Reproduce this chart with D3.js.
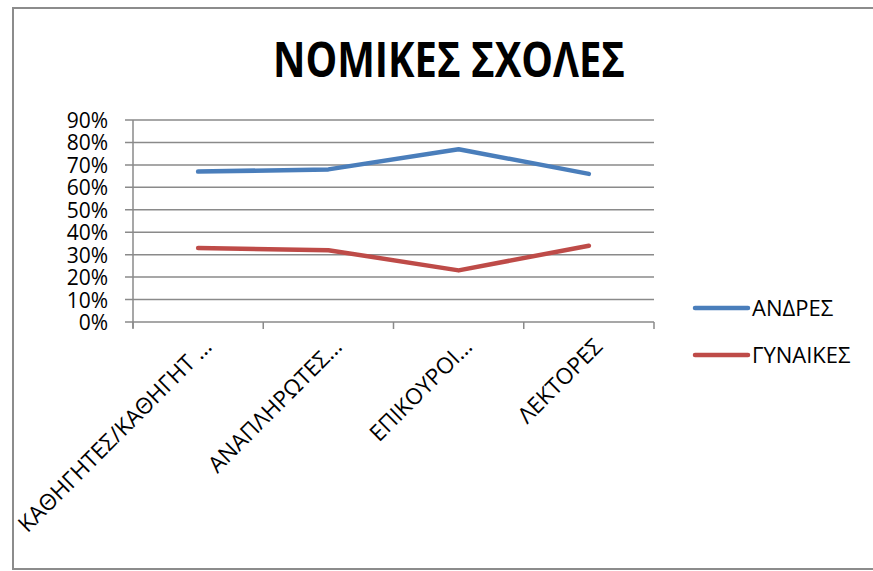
<!DOCTYPE html>
<html>
<head>
<meta charset="utf-8">
<script src="https://cdn.jsdelivr.net/npm/d3@7"></script>
<style>
  body { margin: 0; background: #fff; }
  text { font-family: "Open Sans", sans-serif; fill: #000; }
</style>
</head>
<body>
<div id="chart"></div>
<script>
// chart data
var categories = ['ΚΑΘΗΓΗΤΕΣ/ΚΑΘΗΓΗΤ …', 'ΑΝΑΠΛΗΡΩΤΕΣ…', 'ΕΠΙΚΟΥΡΟΙ…', 'ΛΕΚΤΟΡΕΣ'];
var andres = [0.67, 0.68, 0.77, 0.66];
var gynaikes = [0.33, 0.32, 0.23, 0.34];
var seriesNames = ['ΑΝΔΡΕΣ', 'ΓΥΝΑΙΚΕΣ'];
var seriesColors = ['#4a7ebb', '#be4b48'];
var yTicks = [0, 0.1, 0.2, 0.3, 0.4, 0.5, 0.6, 0.7, 0.8, 0.9];

var width = 873, height = 571;
var svg = d3.select('#chart').append('svg')
  .attr('width', width)
  .attr('height', height);

// outer frame
svg.append('rect')
  .attr('x', 13).attr('y', 8)
  .attr('width', 875).attr('height', 561)
  .attr('fill', 'none')
  .attr('stroke', '#8c8c8c')
  .attr('stroke-width', 2);

svg.append('text')
  .attr('x', 449).attr('y', 77)
  .attr('text-anchor', 'middle')
  .attr('font-size', 48)
  .attr('font-weight', 'bold')
  .attr('textLength', 352)
  .attr('lengthAdjust', 'spacingAndGlyphs')
  .text('ΝΟΜΙΚΕΣ ΣΧΟΛΕΣ');

var plotLeft = 133, plotRight = 654, plotTop = 120, plotBottom = 322;

var x = d3.scaleBand().domain(categories).range([plotLeft, plotRight]);
var y = d3.scaleLinear().domain([0, 0.9]).range([plotBottom, plotTop]);

// gridlines
svg.append('g')
  .selectAll('line')
  .data(yTicks)
  .join('line')
  .attr('x1', plotLeft - 8).attr('x2', plotRight)
  .attr('y1', d => y(d)).attr('y2', d => y(d))
  .attr('stroke', '#8a8a8a')
  .attr('stroke-width', 1.5);

// y axis line
svg.append('line')
  .attr('x1', plotLeft).attr('x2', plotLeft)
  .attr('y1', plotTop).attr('y2', plotBottom + 6)
  .attr('stroke', '#8a8a8a').attr('stroke-width', 1.5);

// x axis ticks
var xTickPos = categories.map(c => x(c)).concat([plotRight]);
svg.append('g')
  .selectAll('line')
  .data(xTickPos)
  .join('line')
  .attr('x1', d => d).attr('x2', d => d)
  .attr('y1', plotBottom).attr('y2', plotBottom + 7)
  .attr('stroke', '#8a8a8a').attr('stroke-width', 1.5);

// y labels
svg.append('g')
  .selectAll('text')
  .data(yTicks)
  .join('text')
  .attr('x', 108)
  .attr('y', d => y(d) + 8)
  .attr('text-anchor', 'end')
  .attr('font-size', 21)
  .text(d => d3.format('.0%')(d));

// x labels
svg.append('g')
  .selectAll('text')
  .data(categories)
  .join('text')
  .attr('text-anchor', 'end')
  .attr('font-size', 22.5)
  .attr('transform', d => 'translate(' + (x(d) + x.bandwidth() / 2 + 15) + ',' + (plotBottom + 26) + ') rotate(-45)')
  .text(d => d);

// lines
var line = d3.line()
  .x((d, i) => x(categories[i]) + x.bandwidth() / 2)
  .y(d => y(d));

[andres, gynaikes].forEach(function (vals, i) {
  svg.append('path')
    .datum(vals)
    .attr('d', line)
    .attr('fill', 'none')
    .attr('stroke', seriesColors[i])
    .attr('stroke-width', 4.5)
    .attr('stroke-linecap', 'round')
    .attr('stroke-linejoin', 'round');
});

// legend
var legend = svg.append('g')
  .selectAll('g')
  .data(seriesNames)
  .join('g')
  .attr('transform', (d, i) => 'translate(695,' + (308 + i * 47) + ')');

legend.append('line')
  .attr('x1', 0).attr('x2', 53)
  .attr('stroke', (d, i) => seriesColors[i])
  .attr('stroke-width', 4.5)
  .attr('stroke-linecap', 'round');

legend.append('text')
  .attr('x', 57).attr('y', 8)
  .attr('font-size', 22)
  .text(d => d);
</script>
</body>
</html>
